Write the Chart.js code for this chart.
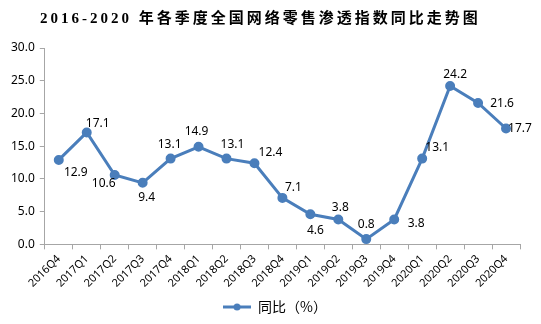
<!DOCTYPE html>
<html><head><meta charset="utf-8">
<script src="https://cdn.jsdelivr.net/npm/chart.js@4"></script>
<style>
html,body{margin:0;padding:0;background:#fff;}
#title{position:absolute;left:40px;top:6px;white-space:nowrap;font:bold 15px "Liberation Serif","Noto Sans CJK SC",serif;letter-spacing:3px;color:#000;}
#wrap{position:absolute;left:0;top:0;width:541px;height:324px;}
</style></head>
<body>
<div id="wrap"><canvas id="c"></canvas></div>
<div id="title">2016-2020 年各季度全国网络零售渗透指数同比走势图</div>
<script>
const categories = ["2016Q4","2017Q1","2017Q2","2017Q3","2017Q4","2018Q1","2018Q2","2018Q3","2018Q4","2019Q1","2019Q2","2019Q3","2019Q4","2020Q1","2020Q2","2020Q3","2020Q4"];
const yoyValues = [12.9,17.1,10.6,9.4,13.1,14.9,13.1,12.4,7.1,4.6,3.8,0.8,3.8,13.1,24.2,21.6,17.7];
const seriesName = "同比（%）";
const yTicks = [0,5,10,15,20,25,30];

// label offsets (style only)
const labelOffsets = [[17,13],[11,-9],[-11,9],[4,15],[-1,-14],[-2,-15],[6,-14],[16,-11],[11,-10],[5,16],[2,-12],[0,-15],[22,4],[15,-11],[5,-11],[24,1],[14,0]];

const COLOR = "#4A7EBB";

const pt = document.createElement('canvas');
pt.width = 28; pt.height = 10;
{
  const g = pt.getContext('2d');
  g.strokeStyle = COLOR; g.lineWidth = 3;
  g.beginPath(); g.moveTo(0,5); g.lineTo(28,5); g.stroke();
  g.fillStyle = COLOR; g.beginPath(); g.arc(14,5,3.5,0,Math.PI*2); g.fill();
}

const labelPlugin = {
  id:'labels',
  afterLayout(chart){
    if (chart.legend) { chart.legend.left += 12; chart.legend.right += 12; }
  },
  afterDatasetsDraw(chart){
    const ctx = chart.ctx;
    const meta = chart.getDatasetMeta(0);
    ctx.save();
    ctx.font = '12px "Noto Sans","DejaVu Sans",sans-serif';
    ctx.fillStyle = '#000';
    ctx.textAlign = 'center';
    ctx.textBaseline = 'middle';
    meta.data.forEach((p,i)=>{
      const o = labelOffsets[i];
      ctx.fillText(yoyValues[i].toFixed(1), p.x+o[0], p.y+o[1]);
    });
    ctx.restore();
  }
};

new Chart(document.getElementById('c'), {
  type:'line',
  data:{labels:categories, datasets:[{label:seriesName, data:yoyValues, borderColor:COLOR, backgroundColor:COLOR, borderWidth:3, pointRadius:3.5, pointBackgroundColor:COLOR, pointBorderColor:COLOR, pointStyle:'circle', tension:0}]},
  options:{
    responsive:true, maintainAspectRatio:false, animation:false,
    layout:{padding:{left:6,right:21,top:48,bottom:0}},
    plugins:{
      legend:{position:'bottom', labels:{usePointStyle:true, pointStyle:pt, pointStyleWidth:28, font:{size:14,family:'"Noto Sans CJK SC","Noto Sans",sans-serif'}, color:'#000', padding:7, boxHeight:10}},
      tooltip:{enabled:false}
    },
    scales:{
      x:{offset:true, grid:{display:true, drawOnChartArea:false, offset:true, color:'#A6A6A6', tickLength:5}, border:{color:'#A6A6A6'},
         ticks:{maxRotation:45, minRotation:45, autoSkip:false, color:'#000', font:{size:11,family:'"Noto Sans","DejaVu Sans",sans-serif'}, padding:3}},
      y:{min:0, max:30, afterBuildTicks(ax){ax.ticks = yTicks.map(v=>({value:v}));},
         grid:{display:true, drawOnChartArea:false, color:'#A6A6A6', tickLength:5}, border:{color:'#A6A6A6'},
         ticks:{color:'#000', font:{size:12,family:'"Noto Sans","DejaVu Sans",sans-serif'}, callback:v=>Number(v).toFixed(1), padding:5}}
    }
  },
  plugins:[labelPlugin]
});
</script>
</body></html>
